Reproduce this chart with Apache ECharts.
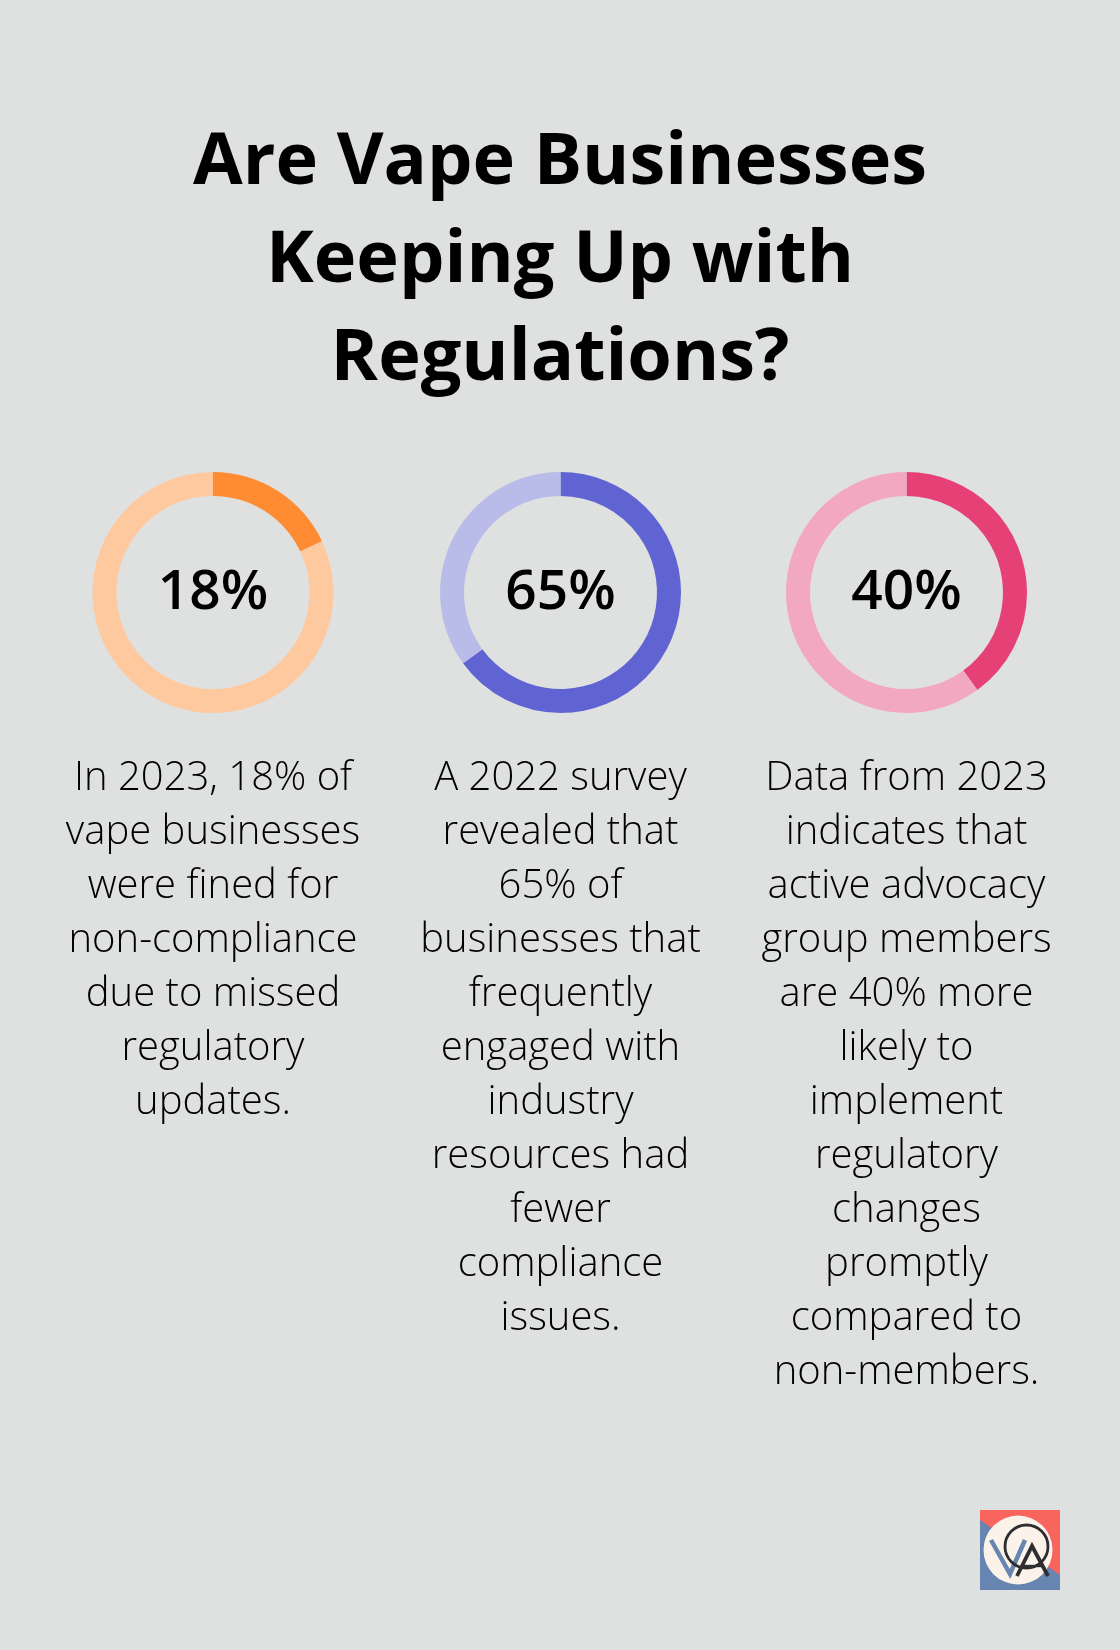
<!DOCTYPE html>
<html><head><meta charset="utf-8">
<script src="https://cdn.jsdelivr.net/npm/echarts@6/dist/echarts.min.js"></script>
<style>html,body{margin:0;padding:0;background:#dfe1e0}#c{width:1120px;height:1650px}</style></head>
<body><div id="c"></div>
<script>
var titleText = "Are Vape Businesses\nKeeping Up with\nRegulations?";
var percents = [18, 65, 40];
var labels = ["18%", "65%", "40%"];
var captions = [
 "In 2023, 18% of\nvape businesses\nwere fined for\nnon-compliance\ndue to missed\nregulatory\nupdates.",
 "A 2022 survey\nrevealed that\n65% of\nbusinesses that\nfrequently\nengaged with\nindustry\nresources had\nfewer\ncompliance\nissues.",
 "Data from 2023\nindicates that\nactive advocacy\ngroup members\nare 40% more\nlikely to\nimplement\nregulatory\nchanges\npromptly\ncompared to\nnon-members."
];
var darkColors = ["#FF8C33", "#6064D2", "#E64176"];
var lightColors = ["#FFC9A0", "#B9BCE9", "#F3A8C1"];
var centersX = [213, 560.5, 906.5];
var FONT = '"Open Sans", sans-serif';

var chart = echarts.init(document.getElementById('c'), null, {renderer:'canvas'});
var series = percents.map(function(p,i){
  return {
    type:'pie', radius:[96.5,120.5], center:[centersX[i],592.5], startAngle:90, clockwise:true,
    silent:true, animation:false, padAngle:0,
    label:{show:false}, labelLine:{show:false},
    data:[
      {value:p, name:labels[i], itemStyle:{color:darkColors[i]},
       label:{show:true, position:'center', formatter:'{b}', color:'#000', fontFamily:FONT, fontSize:55, fontWeight:600, offset:[0,1]}},
      {value:100-p, name:'rest', itemStyle:{color:lightColors[i]}}
    ]
  };
});
var titles = [{
  text:titleText, left:560, top:114.5, padding:0, textAlign:'center',
  textStyle:{fontFamily:FONT, fontSize:72, fontWeight:700, color:'#000', lineHeight:98}
}].concat(captions.map(function(t,i){
  return {text:t, left:centersX[i], top:752, padding:0, textAlign:'center',
    textStyle:{fontFamily:FONT, fontSize:40, fontWeight:300, color:'#000', lineHeight:54}};
}));
chart.setOption({
  backgroundColor:'#dfe1e0',
  animation:false,
  title:titles,
  series:series,
  graphic:[{
    type:'group', left:980, top:1510, silent:true, children:[
      {type:'rect', shape:{x:0,y:0,width:80,height:80}, style:{fill:'#6685B0'}},
      {type:'polygon', shape:{points:[[0,0],[80,0],[80,65],[0,10]]}, style:{fill:'#F8655F'}},
      {type:'circle', shape:{cx:38,cy:40,r:34.5}, style:{fill:'#FBF3EA'}},
      {type:'polyline', shape:{points:[[11,30],[30,64],[45,30]]}, style:{fill:'none',stroke:'#6685B0',lineWidth:4.5}},
      {type:'circle', shape:{cx:46.5,cy:36.5,r:21.5}, style:{fill:'none',stroke:'#2E2E30',lineWidth:2.8}},
      {type:'polyline', shape:{points:[[37,66],[52,36],[68,66]]}, style:{fill:'none',stroke:'#2E2E30',lineWidth:3.8}},
      {type:'line', shape:{x1:43,y1:56,x2:62,y2:56}, style:{stroke:'#2E2E30',lineWidth:2.4}}
    ]
  }]
});
</script></body></html>
